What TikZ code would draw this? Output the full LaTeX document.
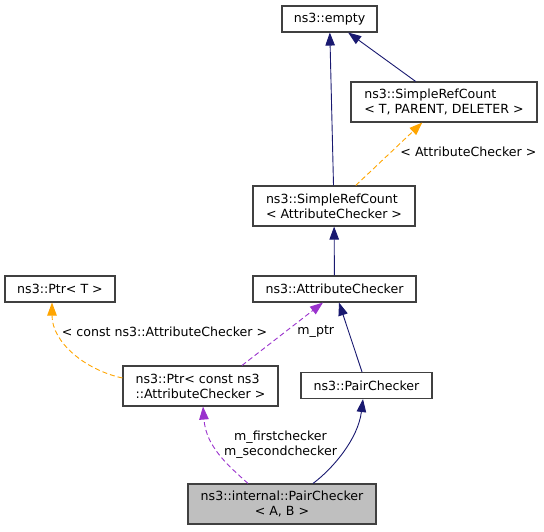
\documentclass[tikz,border=0pt]{standalone}
\usepackage{fontspec}
\setmainfont{DejaVu Sans}
\usetikzlibrary{arrows.meta}

\definecolor{navy}{HTML}{191970}
\definecolor{tmplorange}{HTML}{FFA500}
\definecolor{orchid}{HTML}{9A32CD}
\definecolor{boxgray}{HTML}{BFBFBF}

\begin{document}
\begin{tikzpicture}[
  x=1pt,
  y=1pt,
  font=\fontsize{12.6}{15}\selectfont,
  cls/.style={
    draw=black!75,
    line width=1.1pt,
    inner sep=2pt,
    minimum height=26pt
  },
  inherit/.style={
    -{Triangle[length=13pt,width=9.5pt]},
    draw=navy,
    line width=0.9pt
  },
  templ/.style={
    -{Triangle[length=13pt,width=9.5pt]},
    draw=tmplorange,
    line width=0.9pt,
    dash pattern=on 5pt off 3pt
  },
  usage/.style={
    -{Triangle[length=13pt,width=9.5pt]},
    draw=orchid,
    line width=0.9pt,
    dash pattern=on 5pt off 3pt
  },
  edgelabel/.style={
    inner sep=1pt
  }
]
  \useasboundingbox (0,0) rectangle (544,531);

  % classes
  \node[cls, minimum width=95pt] (empty) at (329.5,512) {ns3::empty};
  \node[cls, minimum width=186pt, minimum height=40pt, align=left] (srcT)
    at (444,429) {ns3::SimpleRefCount\\< T, PARENT, DELETER >};
  \node[cls, minimum width=162pt, minimum height=40pt, align=left] (srcAC)
    at (334,325) {ns3::SimpleRefCount\\< AttributeChecker >};
  \node[cls, minimum width=163pt] (checker) at (334.5,242) {ns3::AttributeChecker};
  \node[cls, minimum width=110pt] (ptrT) at (60,242) {ns3::Ptr< T >};
  \node[cls, minimum width=155pt, minimum height=40pt, align=left] (ptrConst)
    at (200.5,145) {ns3::Ptr< const ns3\\::AttributeChecker >};
  \node[cls, minimum width=131pt] (pair) at (366.5,145.5) {ns3::PairChecker};
  \node[cls, fill=boxgray, minimum width=188pt, minimum height=40pt, align=center] (internal)
    at (282,27) {ns3::internal::PairChecker\\< A, B >};

  % relations
  \draw[inherit] (srcAC) -- (empty);
  \draw[inherit] (srcT) -- (empty);
  \draw[templ] (srcAC) -- (srcT)
    node[edgelabel, midway, anchor=west, xshift=10pt, yshift=2pt] (lblSrc) {< AttributeChecker >};
  \draw[inherit] (checker) -- (srcAC);
  \draw[inherit] (pair) -- (checker);
  \draw[usage] ([xshift=41.5pt]ptrConst.north) -- ([xshift=-11.5pt]checker.south)
    node[edgelabel, midway, anchor=west, xshift=13.5pt, yshift=2pt] (lblPtr) {m\_ptr};
  \draw[templ] ([yshift=8pt]ptrConst.west)
    .. controls +(-37,8) and +(0,-40) .. ([xshift=-8pt]ptrT.south);
  \node[edgelabel] (lblPtrT) at (164.5,199) {< const ns3::AttributeChecker >};
  \draw[usage] ([xshift=-34pt]internal.north)
    .. controls +(-20,18) and +(3,-40) .. ([xshift=2.5pt]ptrConst.south);
  \node[edgelabel, align=center] (lblMembers) at (280.5,86.5) {m\_firstchecker\\m\_secondchecker};
  \draw[inherit] ([xshift=31pt]internal.north)
    .. controls +(20,15) and +(-5,-40) .. ([xshift=-3.5pt]pair.south);
\end{tikzpicture}
\end{document}
